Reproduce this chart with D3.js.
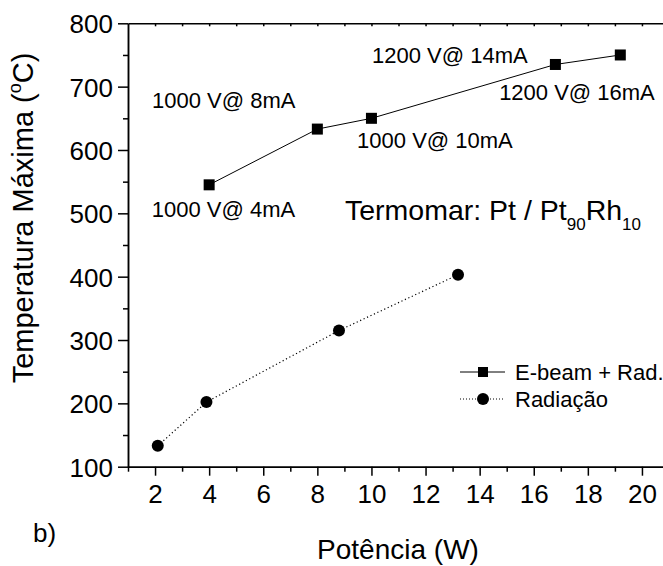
<!DOCTYPE html>
<html>
<head>
<meta charset="utf-8">
<script src="https://d3js.org/d3.v7.min.js"></script>
<style>
	body {
		padding: 0;
		margin: 0;
		background: #fff;
	}
	text {
		font-family: "Liberation Sans", Arial, sans-serif;
		fill: #000;
	}
	.axis line, .axis path {
		stroke: #000;
		stroke-width: 1.5;
	}
</style>
</head>
<body>
<div id="content"></div>
<script>
// Data
var ebeamX = [4, 8, 10, 16.8, 19.2];
var ebeamY = [545, 633, 650, 735, 750];
var radX = [2.1, 3.9, 8.8, 13.2];
var radY = [133, 202, 315, 403];
var xTicks = [2, 4, 6, 8, 10, 12, 14, 16, 18, 20];
var yTicks = [100, 200, 300, 400, 500, 600, 700, 800];
var notes = ['1000 V@ 4mA', '1000 V@ 8mA', '1000 V@ 10mA', '1200 V@ 14mA', '1200 V@ 16mA'];
var noteX = [1.88, 1.89, 9.47, 10.02, 14.72];
var noteY = [494, 666, 603, 737, 679];
var legendNames = ['E-beam + Rad.', 'Radiação'];

var w = 663, h = 566;
var pLeft = 128, pTop = 23.3, pBottom = 466.7;

var svg = d3.select('#content')
	.append('svg')
	.attr('width', w)
	.attr('height', h);

var x = d3.scaleLinear().domain([1, 21]).range([pLeft, pLeft + 20 * 27.05]);
var y = d3.scaleLinear().domain([100, 800]).range([pBottom, pTop]);

// Minor ticks
var xMinor = d3.range(1, 22, 1).filter(function(d) { return d % 2 == 1; });
var yMinor = d3.range(150, 800, 100);

// Bottom axis
svg.append('g')
	.attr('class', 'axis')
	.attr('transform', 'translate(0,' + pBottom + ')')
	.call(d3.axisBottom(x).tickValues(xMinor).tickSize(5).tickFormat('').tickSizeOuter(0));
var xAxis = svg.append('g')
	.attr('class', 'axis')
	.attr('transform', 'translate(0,' + pBottom + ')')
	.call(d3.axisBottom(x).tickValues(xTicks).tickSize(9).tickSizeOuter(0).tickPadding(9));
xAxis.selectAll('text').attr('font-size', 26);

// Left axis
svg.append('g')
	.attr('class', 'axis')
	.attr('transform', 'translate(' + pLeft + ',0)')
	.call(d3.axisLeft(y).tickValues(yMinor).tickSize(5).tickFormat('').tickSizeOuter(0));
var yAxis = svg.append('g')
	.attr('class', 'axis')
	.attr('transform', 'translate(' + pLeft + ',0)')
	.call(d3.axisLeft(y).tickValues(yTicks).tickSize(10).tickSizeOuter(0).tickPadding(5));
yAxis.selectAll('text').attr('font-size', 26).attr('dy', '0.36em');

// Top frame with small ticks
svg.append('g')
	.attr('class', 'axis')
	.attr('transform', 'translate(0,' + pTop + ')')
	.call(d3.axisTop(x).tickValues(d3.range(2, 22, 1)).tickSize(-3).tickFormat('').tickSizeOuter(0));

// Radiação series (dotted)
var radPts = radX.map(function(d, i) { return [d, radY[i]]; });
svg.append('path')
	.datum(radPts)
	.attr('fill', 'none')
	.attr('stroke', '#000')
	.attr('stroke-width', 1.2)
	.attr('stroke-dasharray', '1.2,2.6')
	.attr('d', d3.line().x(function(d) { return x(d[0]); }).y(function(d) { return y(d[1]); }));
svg.selectAll('.rad')
	.data(radPts)
	.enter().append('circle')
	.attr('class', 'rad')
	.attr('cx', function(d) { return x(d[0]); })
	.attr('cy', function(d) { return y(d[1]); })
	.attr('r', 6)
	.attr('fill', '#000');

// E-beam series (solid)
var ebPts = ebeamX.map(function(d, i) { return [d, ebeamY[i]]; });
svg.append('path')
	.datum(ebPts)
	.attr('fill', 'none')
	.attr('stroke', '#000')
	.attr('stroke-width', 1)
	.attr('d', d3.line().x(function(d) { return x(d[0]); }).y(function(d) { return y(d[1]); }));
svg.selectAll('.eb')
	.data(ebPts)
	.enter().append('rect')
	.attr('class', 'eb')
	.attr('x', function(d) { return x(d[0]) - 5.5; })
	.attr('y', function(d) { return y(d[1]) - 5.5; })
	.attr('width', 11)
	.attr('height', 11)
	.attr('fill', '#000');

// Annotations
svg.selectAll('.note')
	.data(notes)
	.enter().append('text')
	.attr('class', 'note')
	.attr('x', function(d, i) { return x(noteX[i]); })
	.attr('y', function(d, i) { return y(noteY[i]); })
	.attr('font-size', 22)
	.text(function(d) { return d; });

var term = svg.append('text')
	.attr('x', 345)
	.attr('y', 220)
	.attr('font-size', 28.5);
term.append('tspan').text('Termomar: Pt / Pt');
term.append('tspan').attr('font-size', 17).attr('dy', 10).text('90');
term.append('tspan').attr('dy', -10).text('Rh');
term.append('tspan').attr('font-size', 17).attr('dy', 10).text('10');

// Legend
var lg = svg.append('g').attr('transform', 'translate(460,372)');
lg.append('line').attr('x1', 0).attr('x2', 45).attr('y1', 0).attr('y2', 0)
	.attr('stroke', '#000').attr('stroke-width', 1);
lg.append('rect').attr('x', 18).attr('y', -5).attr('width', 10).attr('height', 10).attr('fill', '#000');
lg.append('line').attr('x1', 0).attr('x2', 45).attr('y1', 27).attr('y2', 27)
	.attr('stroke', '#000').attr('stroke-width', 1).attr('stroke-dasharray', '1,2');
lg.append('circle').attr('cx', 23).attr('cy', 27).attr('r', 6).attr('fill', '#000');
lg.selectAll('.lt')
	.data(legendNames)
	.enter().append('text')
	.attr('class', 'lt')
	.attr('x', 55)
	.attr('y', function(d, i) { return i * 27 + 8; })
	.attr('font-size', 22)
	.text(function(d) { return d; });

// Axis titles
svg.append('text')
	.attr('x', 398)
	.attr('y', 559)
	.attr('text-anchor', 'middle')
	.attr('font-size', 28)
	.text('Potência (W)');

var yt = svg.append('text')
	.attr('transform', 'translate(33,218) rotate(-90)')
	.attr('text-anchor', 'middle')
	.attr('font-size', 29);
yt.append('tspan').text('Temperatura Máxima (');
yt.append('tspan').attr('font-size', 18).attr('dy', -12).text('o');
yt.append('tspan').attr('dy', 12).text('C)');

svg.append('text')
	.attr('x', 33)
	.attr('y', 542)
	.attr('font-size', 26)
	.text('b)');
</script>
</body>
</html>
